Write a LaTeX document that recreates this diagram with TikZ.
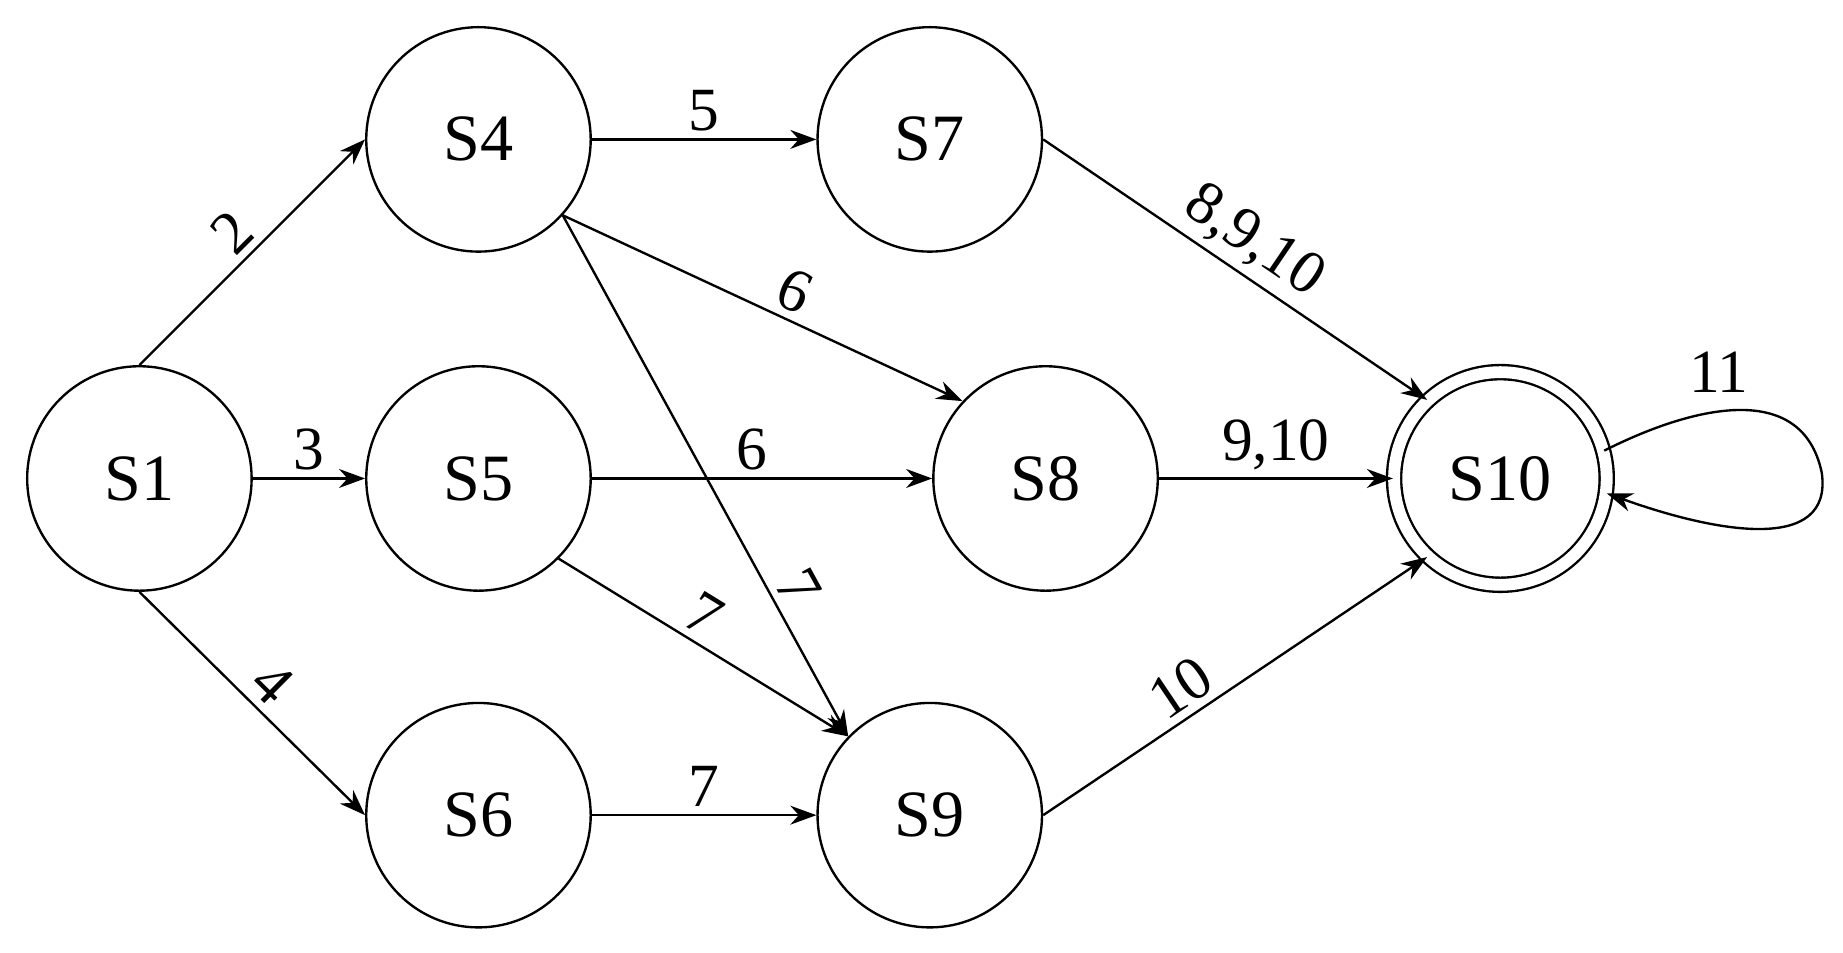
\documentclass[tikz,border=0pt]{standalone}
\usepackage{fontspec}
\setmainfont{Liberation Serif}
\usetikzlibrary{arrows.meta}
\begin{document}
\begin{tikzpicture}[x=0.5pt,y=-0.5pt,
  state/.style={circle,draw,line width=1pt,minimum size=95pt,inner sep=0pt,
    font=\fontsize{28}{30}\selectfont},
  lbl/.style={font=\fontsize{26}{28}\selectfont,inner sep=3pt},
  every edge/.style={draw,line width=1pt,-{Stealth[length=11pt,width=8pt]}}]
  \useasboundingbox (0,0) rectangle (1560,806);

  \node[state] (s1) at (118,405) {S1};
  \node[state] (s4) at (405,118) {S4};
  \node[state] (s5) at (405,405) {S5};
  \node[state] (s6) at (405,690) {S6};
  \node[state] (s7) at (787,118) {S7};
  \node[state] (s8) at (885,405) {S8};
  \node[state] (s9) at (787,690) {S9};
  \node[state,minimum size=90pt,double,double distance=5pt] (s10) at (1270,405) {S10};

  \path (s1.north) edge node[lbl,sloped,above] {2} (s4.west)
        (s1) edge node[lbl,above] {3} (s5)
        (s1.south) edge node[lbl,sloped,above] {4} (s6.west)
        (s4) edge node[lbl,above] {5} (s7)
        (s4.-42) edge node[lbl,sloped,above,pos=0.55] {6} (s8.137)
        (s4.-42) edge node[lbl,sloped,above,pos=0.74] {7} (s9.136)
        (s5) edge node[lbl,above,pos=0.47] {6} (s8)
        (s5.-45) edge node[lbl,sloped,above,pos=0.45] {7} (s9.136)
        (s6) edge node[lbl,above] {7} (s9)
        (s7.east) edge node[lbl,sloped,above,pos=0.5] {8,9,10} (s10.133)
        (s8) edge node[lbl,above] {9,10} (s10)
        (s9.east) edge node[lbl,sloped,above,pos=0.4] {10} (s10.227);
  \draw[line width=1pt,-{Stealth[length=11pt,width=8pt]}] (s10.15)
        .. controls (1430,345) and (1525,320) .. (1542,400)
        .. controls (1552,470) and (1450,450) .. (s10.-8);
  \node[lbl] (l11) at (1455,315) {11};
\end{tikzpicture}
\end{document}
